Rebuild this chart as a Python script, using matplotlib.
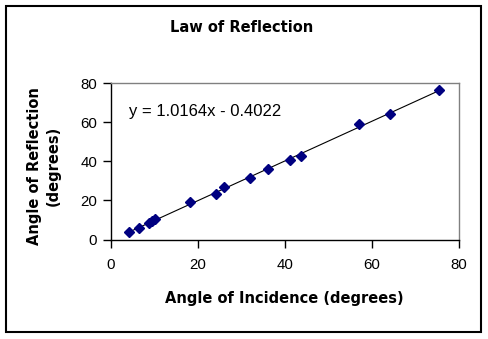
import matplotlib
matplotlib.use("Agg")
import matplotlib.pyplot as plt
from matplotlib.patches import Rectangle
import numpy as np

# Data
incidence = [4.2, 6.5, 8.8, 9.4, 10.0, 18.1, 24.1, 25.9, 32.0, 36.0, 41.2, 43.6, 57.1, 64.2, 75.3]
reflection = [3.9, 6.0, 8.5, 9.6, 10.6, 19.1, 23.1, 27.0, 31.6, 35.9, 40.8, 42.9, 59.0, 64.1, 76.4]
slope = 1.0164
intercept = -0.4022
x_ticks = [0, 20, 40, 60, 80]
y_ticks = [0, 20, 40, 60, 80]

title = "Law of Reflection"
x_label = "Angle of Incidence (degrees)"
y_label = "Angle of Reflection\n(degrees)"

W, H = 489, 339
fig = plt.figure(figsize=(W / 100, H / 100), dpi=100)
fig.patch.set_facecolor("white")

# outer chart border
fig.patches.append(Rectangle((6 / W, 1 - 332 / H), (481 - 6) / W, (332 - 6) / H,
                             transform=fig.transFigure, fill=False,
                             edgecolor="black", linewidth=1.5))

left, right, bottom, top = 111 / W, 459 / W, 1 - 239.5 / H, 1 - 83.3 / H
ax = fig.add_axes([left, bottom, right - left, top - bottom])

ax.plot(incidence, reflection, linestyle="none", marker="D", markersize=5.5,
        markerfacecolor="#000080", markeredgecolor="#000080")
xs = np.array([min(incidence), max(incidence)])
ax.plot(xs, slope * xs + intercept, color="black", linewidth=0.8, zorder=1)

ax.set_xlim(x_ticks[0], x_ticks[-1])
ax.set_ylim(y_ticks[0], y_ticks[-1])
ax.set_xticks(x_ticks)
ax.set_yticks(y_ticks)

tick_font = dict(family="Liberation Sans", size=10.8)
ax.set_xticklabels([str(t) for t in x_ticks], fontdict=tick_font)
ax.set_yticklabels([str(t) for t in y_ticks], fontdict=tick_font)
ax.tick_params(axis="x", direction="out", length=5.5, width=1, pad=8)
ax.tick_params(axis="y", direction="out", length=5.5, width=1, pad=4.5)

for s in ["left", "bottom"]:
    ax.spines[s].set_color("black")
    ax.spines[s].set_linewidth(1.0)
for s in ["top", "right"]:
    ax.spines[s].set_color("#808080")
    ax.spines[s].set_linewidth(1.0)

sign = "-" if intercept < 0 else "+"
ax.text(129 / W, 1 - 111.7 / H, f"y = {slope:.4f}x {sign} {abs(intercept):.4f}",
        transform=fig.transFigure, ha="left", va="center",
        family="Liberation Sans", fontsize=12)

label_font = dict(family="DejaVu Sans", fontsize=10.5, fontweight="bold")
fig.text(242 / W, 1 - 28 / H, title, ha="center", va="center", **label_font)
fig.text(284 / W, 1 - 298 / H, x_label, ha="center", va="center", **label_font)
fig.text(44 / W, 1 - 166 / H, y_label, ha="center", va="center", rotation=90,
         multialignment="center", linespacing=1.25, **label_font)

fig.savefig("out.png", dpi=100)
